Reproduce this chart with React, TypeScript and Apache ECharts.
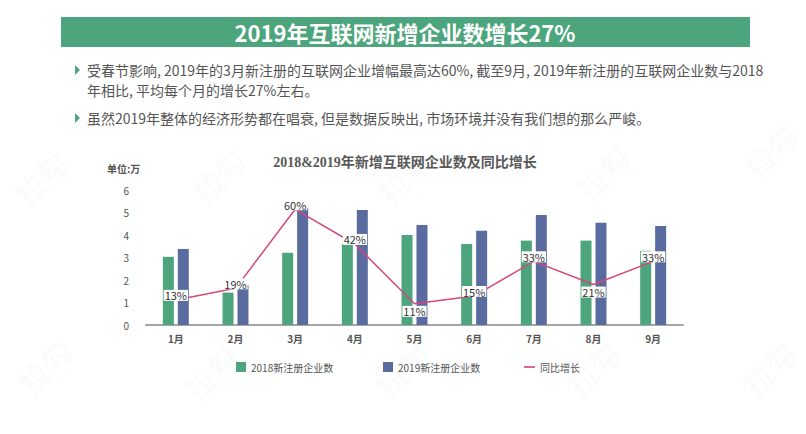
import React, { useEffect, useRef } from "react";
import * as echarts from "echarts";

const categories = ["1月", "2月", "3月", "4月", "5月", "6月", "7月", "8月", "9月"];
// 单位：万
const newCompanies2018 = [3.03, 1.44, 3.21, 3.6, 4.0, 3.6, 3.75, 3.75, 3.3];
const newCompanies2019 = [3.38, 1.78, 5.21, 5.11, 4.44, 4.19, 4.89, 4.55, 4.4];
// 同比增长 (%)
const growthPct = [13, 19, 60, 42, 11, 15, 33, 21, 33];
const growthLabelBelow = [false, false, false, false, true, false, false, true, false];

const seriesNames = ["2018新注册企业数", "2019新注册企业数", "同比增长"];
const headline = "2019年互联网新增企业数增长27%";
const bullets = [
  ["受春节影响, 2019年的3月新注册的互联网企业增幅最高达60%, 截至9月, 2019年新注册的互联网企业数与2018", "年相比, 平均每个月的增长27%左右。"],
  ["虽然2019年整体的经济形势都在唱衰, 但是数据反映出, 市场环境并没有我们想的那么严峻。"],
];
const chartTitle = "2018&2019年新增互联网企业数及同比增长";
const unitLabel = "单位:万";

const GREEN = "#4ca57c";
const BLUE = "#5a6c9f";
const PINK = "#d6477c";
const SANS = "'Noto Sans CJK SC', 'Noto Sans', sans-serif";
const SERIF = "'Liberation Serif', 'DejaVu Serif', 'Noto Sans CJK SC', serif";
const WM = "rgba(76,165,124,0.045)";

const watermarkSpots: [number, number][] = [
  [40, 178], [218, 175], [404, 176], [602, 172], [770, 150],
  [44, 366], [210, 372], [402, 370], [592, 368], [768, 368],
];

export default function App() {
  const ref = useRef<HTMLDivElement>(null);

  useEffect(() => {
    document.body.style.margin = "0";
    const chart = echarts.init(ref.current!, undefined, { renderer: "svg" });

    const watermarks: any[] = [];
    watermarkSpots.forEach(([x, y]) => {
      watermarks.push({
        type: "group",
        x,
        y,
        rotation: Math.PI / 4,
        silent: true,
        z: 0,
        children: [
          {
            type: "text",
            x: 0,
            y: 0,
            style: {
              text: "拉勾",
              fill: WM,
              font: `bold 30px ${SANS}`,
              align: "center",
              verticalAlign: "middle",
            },
          },
          {
            type: "text",
            x: 0,
            y: 22,
            style: {
              text: "LAGOU.COM",
              fill: WM,
              font: `8px ${SANS}`,
              align: "center",
              verticalAlign: "middle",
            },
          },
        ],
      });
    });

    const bulletGraphics: any[] = [];
    const bulletTops = [70, 118];
    bullets.forEach((lines, i) => {
      const y0 = bulletTops[i];
      bulletGraphics.push({
        type: "polygon",
        shape: { points: [[75, y0 - 5], [80, y0], [75, y0 + 5]] },
        style: { fill: GREEN },
      });
      lines.forEach((line, j) => {
        bulletGraphics.push({
          type: "text",
          x: 87,
          y: y0 + j * 20,
          style: {
            text: line,
            fill: "#555",
            font: `14px ${SANS}`,
            verticalAlign: "middle",
          },
        });
      });
    });

    chart.setOption({
      animation: false,
      backgroundColor: "#ffffff",
      graphic: [
        ...watermarks,
        { type: "rect", shape: { x: 61, y: 17, width: 689, height: 30 }, style: { fill: GREEN } },
        {
          type: "text",
          x: 405,
          y: 32,
          style: {
            text: headline,
            fill: "#ffffff",
            font: `bold 22px ${SANS}`,
            align: "center",
            verticalAlign: "middle",
          },
        },
        ...bulletGraphics,
        {
          type: "text",
          x: 405,
          y: 162,
          style: {
            text: chartTitle,
            fill: "#595959",
            font: `bold 14px ${SERIF}`,
            align: "center",
            verticalAlign: "middle",
          },
        },
        {
          type: "text",
          x: 107,
          y: 168,
          style: {
            text: unitLabel,
            fill: "#555",
            font: `bold 10px ${SANS}`,
            verticalAlign: "middle",
          },
        },
      ],
      legend: [
        {
          data: [seriesNames[0]],
          left: 231,
          top: 357,
          itemWidth: 10,
          itemHeight: 10,
          icon: "rect",
          textStyle: { fontSize: 10, color: "#555", fontFamily: SANS },
        },
        {
          data: [seriesNames[1]],
          left: 378,
          top: 357,
          itemWidth: 10,
          itemHeight: 10,
          icon: "rect",
          textStyle: { fontSize: 10, color: "#555", fontFamily: SANS },
        },
        {
          data: [{ name: seriesNames[2], icon: "path://M0,4.5h10v1.5h-10z" }],
          left: 519,
          top: 357,
          itemWidth: 11,
          itemHeight: 10,
          textStyle: { fontSize: 10, color: "#555", fontFamily: SANS },
        },
      ],
      grid: { left: 146, right: 123, top: 190, bottom: 109 },
      xAxis: {
        type: "category",
        data: categories,
        axisLine: { lineStyle: { color: "#a6a6a6", width: 2 } },
        axisTick: { show: false },
        axisLabel: { fontSize: 10, color: "#555", fontFamily: SANS, fontWeight: "bold", margin: 8 },
      },
      yAxis: [
        {
          type: "value",
          min: 0,
          max: 6,
          interval: 1,
          axisLine: { show: false },
          axisTick: { show: false },
          splitLine: { show: false },
          axisLabel: { fontSize: 10, color: "#555", fontFamily: SANS, margin: 17 },
        },
        {
          type: "value",
          min: 0,
          max: 70,
          show: false,
          splitLine: { show: false },
        },
      ],
      series: [
        {
          name: seriesNames[0],
          type: "bar",
          data: newCompanies2018,
          barWidth: 11,
          barGap: "36%",
          itemStyle: { color: GREEN },
        },
        {
          name: seriesNames[1],
          type: "bar",
          data: newCompanies2019,
          barWidth: 11,
          itemStyle: { color: BLUE },
        },
        {
          name: seriesNames[2],
          type: "line",
          yAxisIndex: 1,
          symbol: "circle",
          symbolSize: 0.1,
          showSymbol: true,
          z: 5,
          lineStyle: { color: PINK, width: 1.5 },
          itemStyle: { color: PINK },
          data: growthPct.map((v, i) => ({
            value: v,
            label: {
              position: growthLabelBelow[i] ? "bottom" : "top",
              distance: growthLabelBelow[i] ? 2 : -1,
            },
          })),
          label: {
            show: true,
            formatter: "{c}%",
            fontSize: 11,
            color: "#333",
            fontFamily: SANS,
            backgroundColor: "#ffffff",
            padding: [0, 1],
          },
        },
      ],
    });

    return () => chart.dispose();
  }, []);

  return <div ref={ref} style={{ width: 806, height: 434 }} />;
}
